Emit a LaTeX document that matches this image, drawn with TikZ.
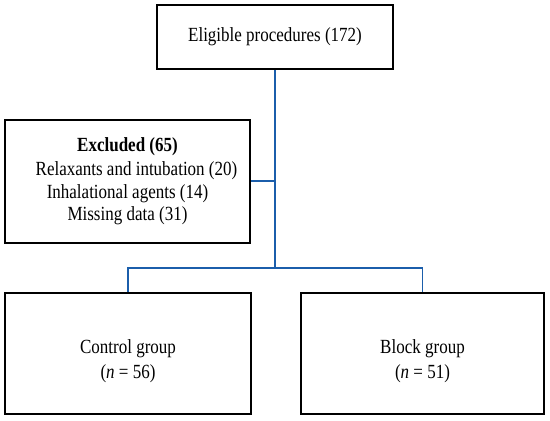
\documentclass[tikz,border=0pt]{standalone}
\usepackage{fontspec}
\usepackage{graphicx}
\setmainfont{Liberation Serif}
\usetikzlibrary{positioning}
\definecolor{c1}{HTML}{1B5EAB}
\newcommand{\tall}[1]{\scalebox{1}[1.18]{#1}}

\begin{document}
\begin{tikzpicture}[x=1pt,y=-1pt,
  box/.style={draw=black,line width=2pt,align=center,inner sep=0pt,
    font=\fontsize{17}{22.5}\selectfont},
  txt/.style={align=center,inner sep=0pt,font=\fontsize{17}{22.5}\selectfont},
  link/.style={draw=c1,line width=1.8pt}]
\useasboundingbox (0,0) rectangle (550,421);
\node[box,minimum width=236pt,minimum height=64pt] (elig) at (275,37) {\tall{Eligible procedures (172)}};
\node[box,minimum width=245pt,minimum height=123pt] (excl) at (127.5,181)
  {\tall{\textbf{Excluded (65)}}\\[2pt] \hspace*{18pt}\tall{Relaxants and intubation (20)}\\ \tall{Inhalational agents (14)}\\ \tall{Missing data (31)}};
\node[box,minimum width=246pt,minimum height=121pt] (ctrl) at (128,353.5) {};
\node[box,minimum width=243pt,minimum height=121pt] (blck) at (422.5,353.5) {};
\node[txt] (ctrl-txt) at (128,361) {\tall{Control group}\\[3pt] \tall{(\textit{n} = 56)}};
\node[txt] (blck-txt) at (422.5,361) {\tall{Block group}\\[3pt] \tall{(\textit{n} = 51)}};
\coordinate (split) at (275,268);

\draw[link] (elig.south) -- (split);
\draw[link] (excl.east) -- (excl.east -| elig.south);
\draw[link] (ctrl.north) -- (ctrl.north |- split) -- (blck.north |- split) -- (blck.north);
\end{tikzpicture}
\end{document}
